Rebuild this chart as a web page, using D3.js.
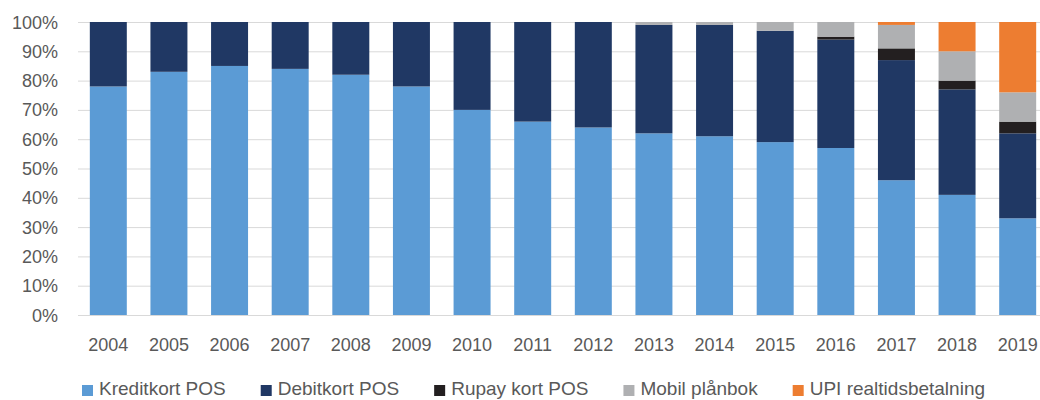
<html><head><meta http-equiv="Content-Type" content="text/html; charset=UTF-8"><title>POS share</title>
<script src="https://cdn.jsdelivr.net/npm/d3@7"></script>
<style>
	body	{ margin:0; background:#fff; }
	svg	{ display:block; }
	text	{ font-family:"Liberation Sans",Arial,sans-serif; font-size:18px; fill:#595959; }
	.leg text { font-size:19px; }
</style>
</head><body>
<svg width="1040" height="400"></svg>
<script>
// data, percent of POS value
var years=['2004','2005','2006','2007','2008','2009','2010','2011','2012','2013','2014','2015','2016','2017','2018','2019'];
var kreditkort=[78,83,85,84,82,78,70,66,64,62,61,59,57,46,41,33];
var debitkort =[22,17,15,16,18,22,30,34,36,37,38,38,37,41,36,29];
var rupay     =[ 0, 0, 0, 0, 0, 0, 0, 0, 0, 0, 0, 0, 1, 4, 3, 4];
var mobil     =[ 0, 0, 0, 0, 0, 0, 0, 0, 0, 1, 1, 3, 5, 8,10,10];
var upi       =[ 0, 0, 0, 0, 0, 0, 0, 0, 0, 0, 0, 0, 0, 1,10,24];
var yTicks=[0,10,20,30,40,50,60,70,80,90,100];
var series=[
	{name:'Kreditkort POS',       vals:kreditkort, color:'#5B9BD5'},
	{name:'Debitkort POS',        vals:debitkort,  color:'#203864'},
	{name:'Rupay kort POS',       vals:rupay,      color:'#231F20'},
	{name:'Mobil plånbok',        vals:mobil,      color:'#AFB0B2'},
	{name:'UPI realtidsbetalning',vals:upi,        color:'#ED7D31'}
];

var svg=d3.select('svg');
var x=d3.scaleBand().domain(years).range([78,1048]).paddingInner(0.39).paddingOuter(0.195);
var y=d3.scaleLinear().domain([0,100]).range([315,22]);

// gridlines
svg.append('g').selectAll('line').data(yTicks).join('line')
	.attr('x1',78).attr('x2',1040)
	.attr('y1',function(d){return y(d)+0.5;}).attr('y2',function(d){return y(d)+0.5;})
	.attr('stroke','#D9D9D9').attr('stroke-width',1);

// stacked bars
var rows=years.map(function(yr,i){
	var r={year:yr};
	series.forEach(function(s){r[s.name]=s.vals[i];});
	return r;
});
var stack=d3.stack().keys(series.map(function(s){return s.name;}))(rows);
svg.append('g').selectAll('g').data(stack).join('g')
	.attr('fill',function(d,i){return series[i].color;})
	.selectAll('rect').data(function(d){return d;}).join('rect')
	.attr('x',function(d){return x(d.data.year);})
	.attr('width',x.bandwidth())
	.attr('y',function(d){return y(d[1]);})
	.attr('height',function(d){return y(d[0])-y(d[1]);});

// y axis labels
svg.append('g').selectAll('text').data(yTicks).join('text')
	.attr('x',58).attr('y',function(d){return y(d)+6.5;})
	.attr('text-anchor','end')
	.text(function(d){return d+'%';});

// x axis labels
svg.append('g').selectAll('text').data(years).join('text')
	.attr('x',function(d){return x(d)+x.bandwidth()/2;}).attr('y',351)
	.attr('text-anchor','middle')
	.text(function(d){return d;});

// legend
var lg=svg.append('g').attr('class','leg'), lx=82;
series.forEach(function(s){
	lg.append('rect').attr('x',lx).attr('y',385).attr('width',11).attr('height',11).attr('fill',s.color);
	var t=lg.append('text').attr('x',lx+17).attr('y',395).text(s.name);
	lx+=17+t.node().getComputedTextLength()+35;
});
</script>
</body></html>
